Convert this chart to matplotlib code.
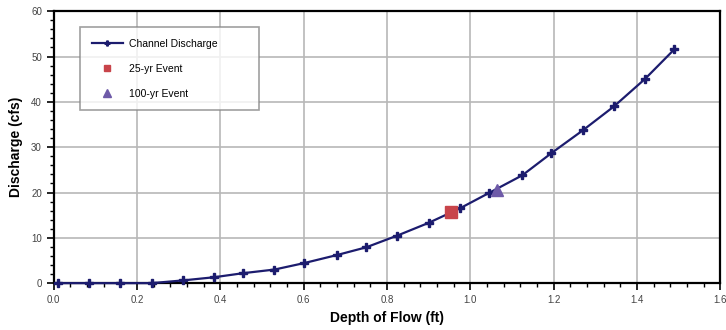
import numpy as np
import matplotlib
matplotlib.use("Agg")
import matplotlib.pyplot as plt
from matplotlib.ticker import MultipleLocator

plt.rcParams['font.family'] = ['Liberation Sans', 'DejaVu Sans']

# channel rating curve
depth = [0.01, 0.085, 0.16, 0.235, 0.31, 0.385, 0.455, 0.53, 0.60, 0.68,
         0.75, 0.825, 0.90, 0.975, 1.045, 1.125, 1.195, 1.27, 1.345, 1.42, 1.49]
discharge = [0.0, 0.0, 0.0, 0.0, 0.6, 1.3, 2.2, 3.0, 4.4, 6.2,
             7.9, 10.5, 13.3, 16.5, 19.9, 23.8, 28.7, 33.7, 39.0, 45.1, 51.6]

# design events
ev25_depth = [0.953]
ev25_q = [15.7]
ev100_depth = [1.065]
ev100_q = [20.5]

line_color = '#1c1c6e'

fig = plt.figure(figsize=(7.26, 3.30), dpi=100)
ax = fig.add_axes([0.074, 0.142, 0.918, 0.824])

ax.plot(depth, discharge, color=line_color, lw=1.6, marker='P', ms=6,
        mfc=line_color, mec=line_color, label='Channel Discharge', zorder=3,
        clip_on=False)
ax.plot(ev25_depth, ev25_q, ls='none', marker='s', ms=8, color='#c8444a',
        label='25-yr Event', zorder=4)
ax.plot(ev100_depth, ev100_q, ls='none', marker='^', ms=9, color='#6e5aa8',
        label='100-yr Event', zorder=4)

ax.set_xlim(0, 1.6)
ax.set_ylim(0, 60)
ax.xaxis.set_major_locator(MultipleLocator(0.2))
ax.xaxis.set_minor_locator(MultipleLocator(0.04))
ax.yaxis.set_major_locator(MultipleLocator(10))
ax.yaxis.set_minor_locator(MultipleLocator(2))
ax.xaxis.set_major_formatter(plt.FuncFormatter(lambda v, p: f'{v:.1f}'))

ax.grid(True, which='major', color='#b8b8b8', lw=1.2)
ax.set_axisbelow(True)
for s in ax.spines.values():
    s.set_linewidth(1.6)
    s.set_color('black')

ax.tick_params(axis='both', which='major', direction='out', length=5,
               width=1.2, labelsize=7, labelcolor='#444444')
ax.tick_params(axis='both', which='minor', direction='out', length=3, width=1.0)

ax.set_xlabel('Depth of Flow (ft)', fontsize=10, fontweight='bold', labelpad=4)
ax.set_ylabel('Discharge (cfs)', fontsize=10, fontweight='bold', labelpad=6)

leg = ax.legend(loc='upper left', bbox_to_anchor=(0.040, 0.30, 0.268, 0.641),
                mode='expand', fontsize=7.5, markerscale=0.6,
                frameon=True, fancybox=False, edgecolor='#888888',
                borderpad=1.1, labelspacing=1.45, handlelength=3.0,
                handletextpad=0.6, borderaxespad=0)
leg.get_frame().set_linewidth(1.2)

fig.savefig('out.png', dpi=100)
